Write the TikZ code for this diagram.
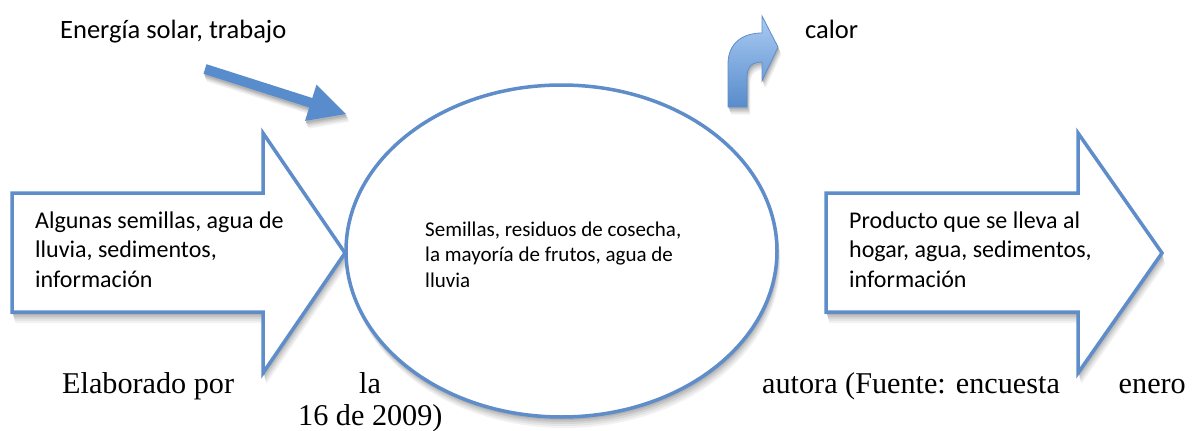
\documentclass[tikz,border=0pt]{standalone}
\usepackage{fontspec}
\setmainfont{Liberation Serif}
\newfontfamily\carl{Carlito}
\usetikzlibrary{shapes.geometric}
\definecolor{lineblue}{RGB}{94,141,201}
\definecolor{fillblue}{RGB}{88,140,204}
\definecolor{lightblue}{RGB}{170,203,242}
\newcommand\pathLeftArr{(12,193) -- (263,193) -- (263,133) -- (345,253) -- (263,373) -- (263,312) -- (12,312) -- cycle}
\newcommand\pathRightArr{(826,193) -- (1078,193) -- (1078,133) -- (1162,253) -- (1078,373) -- (1078,312) -- (826,312) -- cycle}
\newcommand\pathEll{(561.5,251) ellipse [x radius=215.5, y radius=166]}
\newcommand\pathStraight{(203.5,73.8) -- (309.2,107.5) -- (305.0,120.9) -- (346,114) -- (316.5,84.6) -- (312.3,98.0) -- (206.5,64.2) -- cycle}
\newcommand\pathBent{(728,107) -- (728,64) .. controls (728,42) and (744,33) .. (762,33) -- (762,16) -- (778,47) -- (762,81) -- (762,62) .. controls (753,62) and (747,66) .. (747,77) -- (747,107) -- cycle}
\definecolor{shA}{gray}{0.95}
\definecolor{shB}{gray}{0.90}
\definecolor{shC}{gray}{0.84}
\definecolor{shD}{gray}{0.77}
\definecolor{shE}{gray}{0.70}
\tikzset{
  outl/.style={draw=lineblue, line width=3.5pt, fill=white, line join=miter},
  solidarr/.style={fill=fillblue, draw=none},
  bigtxt/.style={font=\carl\fontsize{24}{29.5}\selectfont, anchor=base west, inner sep=0pt, align=left},
  smalltxt/.style={font=\carl\fontsize{21}{25.7}\selectfont, anchor=base west, inner sep=0pt, align=left},
  toptxt/.style={font=\carl\fontsize{26.5}{30}\selectfont, anchor=base west, inner sep=0pt},
  foottxt/.style={font=\fontsize{30.2}{32}\selectfont, inner sep=0pt},
}
\begin{document}
\begin{tikzpicture}[x=1pt,y=-1pt]
\useasboundingbox (0,0) rectangle (1195,431);
% soft shadows
\foreach \dd/\cc in {11/shA,9/shB,7/shC,5/shD,3/shE}{
  \begin{scope}[xshift=0.3*\dd pt, yshift=-\dd pt]
    \fill[\cc] \pathLeftArr;
    \fill[\cc] \pathRightArr;
    \fill[\cc] \pathEll;
  \end{scope}
  \begin{scope}[xshift=0.3*\dd pt, yshift=-0.7*\dd pt]
    \fill[\cc] \pathStraight;
    \fill[\cc] \pathBent;
  \end{scope}
}
% left arrow
\draw[outl] \pathLeftArr;
% right arrow
\draw[outl] \pathRightArr;
% ellipse
\node[outl, ellipse, minimum width=431pt, minimum height=332pt, inner sep=0pt] (sys) at (561.5,251) {};
% straight arrow
\fill[solidarr] \pathStraight;
% curved arrow
\draw[draw=lineblue, line width=0.8pt, top color=lightblue, bottom color=fillblue] \pathBent;
% texts
\node[toptxt] (energia) at (60,38) {Energía solar, trabajo};
\node[toptxt] (calor) at (805,38) {calor};
\node[bigtxt] (intxt) at (35,287) {Algunas semillas, agua de\\lluvia, sedimentos,\\información};
\node[bigtxt] (outtxt) at (849,287) {Producto que se lleva al\\hogar, agua, sedimentos,\\información};
\node[smalltxt] (systxt) at (425,287.5) {Semillas, residuos de cosecha,\\la mayoría de frutos, agua de\\lluvia};
% footer
\node[foottxt, anchor=base west] (f1) at (62,393) {Elaborado por};
\node[foottxt, anchor=base west] (f2) at (359,393) {la};
\node[foottxt, anchor=base west] (f3) at (762,393) {autora (Fuente: encuesta};
\node[foottxt, anchor=base east] (f4) at (1186,393) {enero};
\node[foottxt, anchor=base west] (f5) at (298,425) {16 de 2009)};
\end{tikzpicture}
\end{document}
